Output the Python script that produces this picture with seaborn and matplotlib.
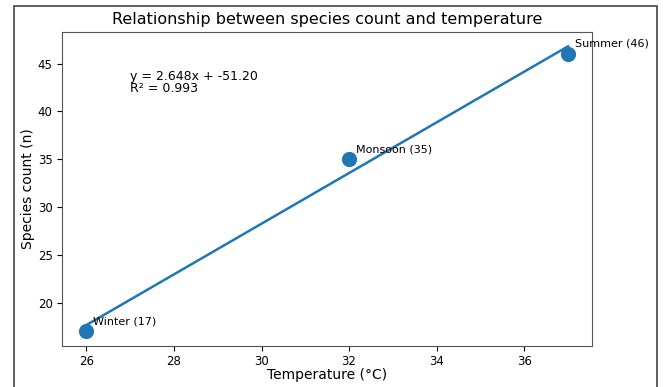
import numpy as np
import pandas as pd
import matplotlib
matplotlib.use("Agg")
import matplotlib.pyplot as plt
import seaborn as sns
from matplotlib.patches import Rectangle

seasons = ["Winter", "Monsoon", "Summer"]
temperature = [26, 32, 37]
species = [17, 35, 46]

df = pd.DataFrame({"season": seasons, "temp": temperature, "species": species})
slope, intercept = np.polyfit(df["temp"], df["species"], 1)
pred = slope * df["temp"] + intercept
r2 = 1 - ((df["species"] - pred) ** 2).sum() / ((df["species"] - df["species"].mean()) ** 2).sum()
fit = pd.DataFrame({"temp": df["temp"], "fit": pred})

fig = plt.figure(figsize=(6.63, 3.87), dpi=100)
ax = fig.add_axes([0.094, 0.107, 0.799, 0.810])
color = "#1f77b4"
sns.scatterplot(data=df, x="temp", y="species", s=120, color=color, edgecolor=color, linewidth=0, ax=ax, zorder=3)
sns.lineplot(data=fit, x="temp", y="fit", color=color, linewidth=1.8, ax=ax)

for _, r in df.iterrows():
    ax.annotate(f"{r['season']} ({r['species']})", (r["temp"], r["species"]),
                xytext=(5, 5), textcoords="offset points", fontsize=8)

ax.text(27, 42, f"y = {slope:.3f}x + {intercept:.2f}\nR² = {r2:.3f}", fontsize=9, linespacing=0.9)

ax.set_title("Relationship between species count and temperature", fontsize=11.5)
ax.set_xlabel("Temperature (°C)", fontsize=10, labelpad=0)
ax.set_ylabel("Species count (n)", fontsize=10, labelpad=2)
ax.tick_params(labelsize=8.5)
ax.set_xticks([26, 28, 30, 32, 34, 36])
ax.set_yticks([20, 25, 30, 35, 40, 45])
for s in ax.spines.values():
    s.set_color("#555555")

fig.patches.append(Rectangle((14, -10), 643, 391, transform=None, fill=False,
                             edgecolor="#444444", linewidth=1.2, figure=fig))
fig.savefig("out.png", dpi=100)
